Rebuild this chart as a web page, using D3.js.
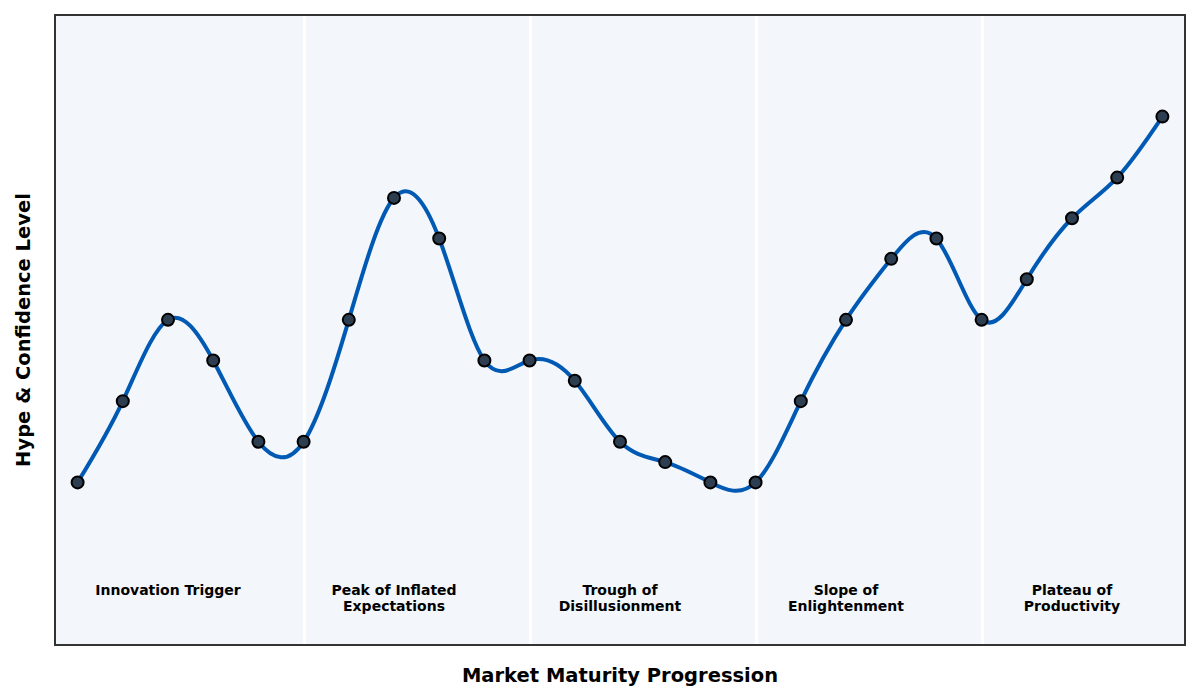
<!DOCTYPE html>
<html>
<head>
<meta charset="utf-8">
<script src="https://cdn.jsdelivr.net/npm/d3@7"></script>
<style>
  body { margin: 0; background: #fff; }
  svg { display: block; font-family: "DejaVu Sans", sans-serif; }
</style>
</head>
<body>
<div id="chart"></div>
<script>
// -------------------------------
// Data
// -------------------------------
const steps = d3.range(25);
const hype = [2, 4, 6, 5, 3, 3, 6, 9, 8, 5, 5, 4.5, 3, 2.5, 2, 2, 4, 6, 7.5, 8, 6, 7, 8.5, 9.5, 11];
const phaseBreaks = [5, 10, 15, 20];
const phaseCenters = [2, 7, 12, 17, 22];
const phaseLabels = [
  ["Innovation Trigger"],
  ["Peak of Inflated", "Expectations"],
  ["Trough of", "Disillusionment"],
  ["Slope of", "Enlightenment"],
  ["Plateau of", "Productivity"]
];

// -------------------------------
// Layout
// -------------------------------
const W = 1200, H = 700;
const margin = { top: 15, right: 15, bottom: 55, left: 55 };

const svg = d3.select("#chart").append("svg")
  .attr("width", W)
  .attr("height", H);

const x = d3.scaleLinear().domain([-0.5, 24.5]).range([margin.left, W - margin.right]);
const y = d3.scaleLinear().domain([-2, 13.5]).range([H - margin.bottom, margin.top]);

// plot background
svg.append("rect")
  .attr("x", margin.left)
  .attr("y", margin.top)
  .attr("width", W - margin.left - margin.right)
  .attr("height", H - margin.top - margin.bottom)
  .attr("fill", "#f3f6fa");

// phase separators
svg.selectAll(".sep")
  .data(phaseBreaks)
  .enter().append("line")
    .attr("class", "sep")
    .attr("x1", d => x(d) + 1).attr("x2", d => x(d) + 1)
    .attr("y1", margin.top).attr("y2", H - margin.bottom)
    .attr("stroke", "#ffffff")
    .attr("stroke-width", 3);

// phase labels
const labels = svg.selectAll(".phase")
  .data(phaseLabels)
  .enter().append("text")
    .attr("class", "phase")
    .attr("text-anchor", "middle")
    .attr("font-size", "14px")
    .attr("font-weight", "bold")
    .attr("fill", "#000");

labels.selectAll("tspan")
  .data((d, i) => d.map(t => ({ t, i })))
  .enter().append("tspan")
    .attr("x", d => x(phaseCenters[d.i]))
    .attr("y", (d, j) => y(-0.5) + 11 + j * 16)
    .text(d => d.t);

// curve
const line = d3.line()
  .x((d, i) => x(steps[i]))
  .y(d => y(d))
  .curve(d3.curveNatural);

svg.append("path")
  .datum(hype)
  .attr("d", line)
  .attr("fill", "none")
  .attr("stroke", "#005ab4")
  .attr("stroke-width", 4)
  .attr("stroke-linecap", "round");

// points
svg.selectAll(".pt")
  .data(hype)
  .enter().append("circle")
    .attr("class", "pt")
    .attr("cx", (d, i) => x(steps[i]))
    .attr("cy", d => y(d))
    .attr("r", 6)
    .attr("fill", "#2c3e50")
    .attr("stroke", "#000")
    .attr("stroke-width", 2);

// frame
svg.append("rect")
  .attr("x", margin.left)
  .attr("y", margin.top)
  .attr("width", W - margin.left - margin.right)
  .attr("height", H - margin.top - margin.bottom)
  .attr("fill", "none")
  .attr("stroke", "#333")
  .attr("stroke-width", 2);

// axis titles
svg.append("text")
  .attr("x", (margin.left + W - margin.right) / 2)
  .attr("y", 682)
  .attr("text-anchor", "middle")
  .attr("font-size", "19.5px")
  .attr("font-weight", "bold")
  .text("Market Maturity Progression");

svg.append("text")
  .attr("transform", `translate(30,${(margin.top + H - margin.bottom) / 2}) rotate(-90)`)
  .attr("text-anchor", "middle")
  .attr("font-size", "19.5px")
  .attr("font-weight", "bold")
  .text("Hype & Confidence Level");
</script>
</body>
</html>
